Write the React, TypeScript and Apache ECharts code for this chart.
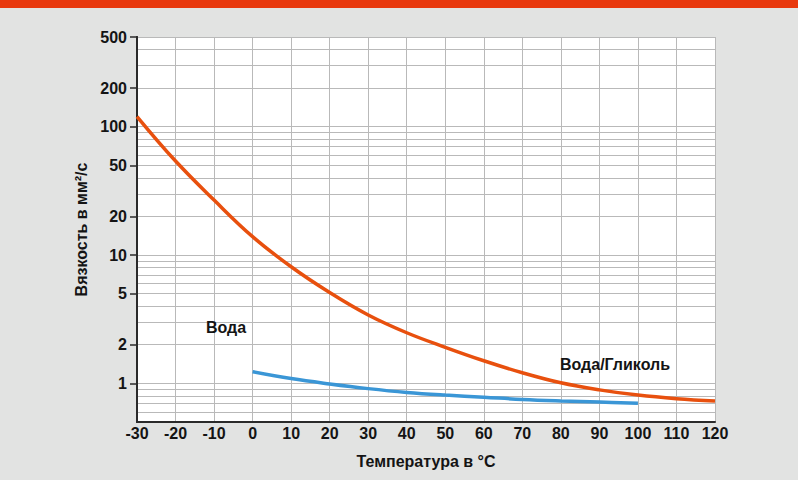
import React, { useEffect, useRef } from "react";
import * as echarts from "echarts";

const glycolTemps = [-30, -20, -10, 0, 10, 20, 30, 40, 50, 60, 70, 80, 90, 100, 110, 120];
const glycolVisc = [120, 54, 26.8, 13.9, 8.1, 5.1, 3.41, 2.48, 1.91, 1.5, 1.21, 1.01, 0.89, 0.81, 0.76, 0.73];

const waterTemps = [0, 10, 20, 30, 40, 50, 60, 70, 80, 90, 100];
const waterVisc = [1.23, 1.09, 0.99, 0.91, 0.85, 0.81, 0.78, 0.75, 0.73, 0.715, 0.7];

const yLabelValues = [1, 2, 5, 10, 20, 50, 100, 200, 500];
const yGridValues = [
  0.5, 0.6, 0.7, 0.8, 0.9, 1, 2, 3, 4, 5, 6, 7, 8, 9, 10, 20, 30, 40, 50, 60, 70, 80, 90,
  100, 200, 300, 400, 500,
];

const seriesNames = ["Вода/Гликоль", "Вода"];
const yAxisTitle = "Вязкость в мм²/с";
const xAxisTitle = "Температура в °C";

const FONT = "'Liberation Sans', Arial, Helvetica, sans-serif";
const TEXT = "#141414";
const GRID = "#b9b9b9";

export default function App() {
  const ref = useRef<HTMLDivElement>(null);

  useEffect(() => {
    if (!ref.current) return;
    const chart = echarts.init(ref.current, undefined, { renderer: "svg" });
    const axisLine = { show: true, onZero: false, lineStyle: { color: "#2a2a2a", width: 2 } };
    const option = {
      animation: false,
      backgroundColor: "#e2e3e2",
      grid: { left: 137, right: 83, top: 37, bottom: 58, containLabel: false, backgroundColor: "#ffffff", show: true, borderWidth: 0 },
      graphic: [
        { type: "rect", left: 0, top: 0, shape: { width: 798, height: 8 }, style: { fill: "#e8380d" } },
        {
          type: "text",
          x: 226,
          y: 327,
          style: { text: seriesNames[1], font: `bold 16px ${FONT}`, fill: TEXT, align: "center", verticalAlign: "middle" },
          z: 10,
        },
        {
          type: "text",
          x: 615,
          y: 364,
          style: { text: seriesNames[0], font: `bold 16px ${FONT}`, fill: TEXT, align: "center", verticalAlign: "middle" },
          z: 10,
        },
      ],
      xAxis: {
        type: "value",
        min: -30,
        max: 120,
        interval: 10,
        name: xAxisTitle,
        nameLocation: "middle",
        nameGap: 31,
        nameTextStyle: { fontFamily: FONT, fontWeight: "bold", fontSize: 16, color: TEXT },
        axisLine,
        axisTick: { show: false },
        axisLabel: { margin: 3, fontFamily: FONT, fontWeight: "bold", fontSize: 16, color: TEXT },
        splitLine: { show: true, lineStyle: { color: GRID, width: 1 } },
      },
      yAxis: [
        {
          type: "log",
          logBase: 10,
          min: 0.5,
          max: 500,
          position: "left",
          axisLine,
          axisTick: { show: false, customValues: yGridValues },
          axisLabel: { show: false },
          splitLine: { show: true, lineStyle: { color: GRID, width: 1 } },
        },
        {
          type: "log",
          logBase: 10,
          min: 0.5,
          max: 500,
          position: "left",
          offset: 0,
          name: yAxisTitle,
          nameLocation: "middle",
          nameGap: 40,
          nameTextStyle: { fontFamily: FONT, fontWeight: "bold", fontSize: 16, color: TEXT },
          axisLine,
          axisTick: { show: true, inside: false, length: 7, customValues: yLabelValues, lineStyle: { color: "#2a2a2a", width: 1.5 } },
          axisLabel: { show: true, margin: 10, customValues: yLabelValues, fontFamily: FONT, fontWeight: "bold", fontSize: 16, color: TEXT },
          splitLine: { show: false },
        },
      ],
      series: [
        {
          name: seriesNames[0],
          type: "line",
          yAxisIndex: 0,
          smooth: 0.4,
          showSymbol: false,
          symbol: "none",
          lineStyle: { color: "#e8500e", width: 3.5 },
          data: glycolTemps.map((t, i) => [t, glycolVisc[i]]),
          z: 5,
        },
        {
          name: seriesNames[1],
          type: "line",
          yAxisIndex: 0,
          smooth: 0.4,
          showSymbol: false,
          symbol: "none",
          lineStyle: { color: "#3a96d6", width: 3.5 },
          data: waterTemps.map((t, i) => [t, waterVisc[i]]),
          z: 5,
        },
      ],
    };
    chart.setOption(option as any);
    return () => chart.dispose();
  }, []);

  return (
    <div
      ref={ref}
      style={{ position: "fixed", left: 0, top: 0, width: 798, height: 480 }}
    />
  );
}
